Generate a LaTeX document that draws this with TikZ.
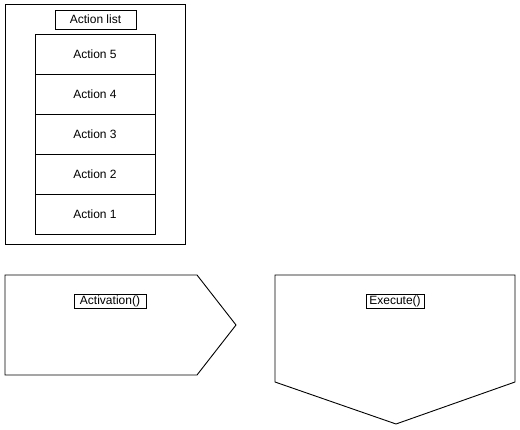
\documentclass[tikz,border=0pt]{standalone}
\usepackage{fontspec}
\setmainfont{Liberation Sans}
\usetikzlibrary{positioning}
\begin{document}
\begin{tikzpicture}[x=1pt, y=-1pt, line width=0.9pt,
    texto/.style={font=\fontsize{12}{14}\selectfont},
    accion/.style={draw, texto, minimum width=120pt, minimum height=40pt, inner sep=0pt, outer sep=0pt},
    rotulo/.style={draw, texto, inner sep=0pt, outer sep=0pt}]
    \useasboundingbox (0,0) rectangle (520,430);

    % Lista de acciones
    \node[draw, minimum width=180pt, minimum height=240pt, outer sep=0pt] (lista) at (95,124) {};
    \node[rotulo, minimum width=81pt, minimum height=19pt] (titulo) at (95.5,19.5) {Action list};
    \foreach \i [count=\k] in {5,4,3,2,1} {
        \node[accion] (act\i) at (95,14+40*\k) {Action \i};
    }

    % Activation
    \draw (5,275) coordinate (a1) -- (197,275) -- (236,325) coordinate (punta) -- (197,375) -- (5,375) -- cycle;
    \node[rotulo, minimum width=72pt, minimum height=14pt] (activacion) at (110,301) {Activation()};

    % Execute
    \draw (275,275) coordinate (e1) -- (515,275) -- (515,382) -- (396,424) coordinate (fondo) -- (275,382) -- cycle;
    \node[rotulo, minimum width=58pt, minimum height=14pt] (ejecutar) at (395,301) {Execute()};
\end{tikzpicture}
\end{document}
